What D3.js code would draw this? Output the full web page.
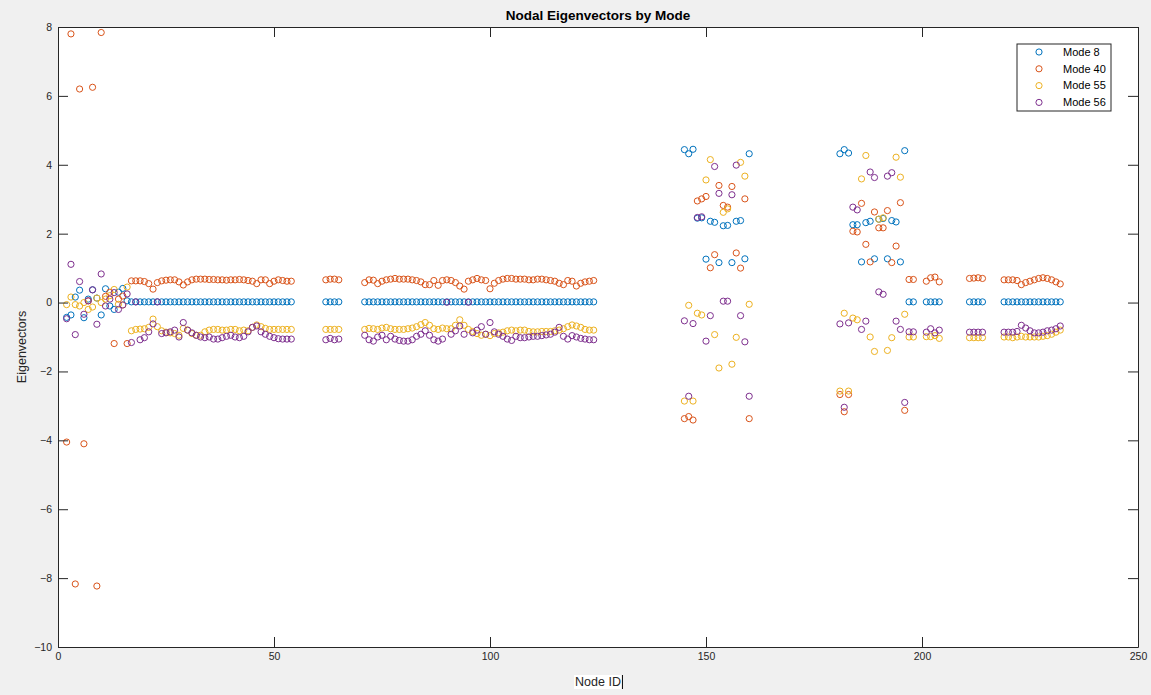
<!DOCTYPE html>
<html>
<head>
<meta charset="utf-8">
<script src="https://cdn.jsdelivr.net/npm/d3@7"></script>
<style>
  body { margin: 0; background: #f0f0f0; }
  svg { display: block; font-family: "Liberation Sans", Arial, sans-serif; }
</style>
</head>
<body>
<svg id="chart" width="1151" height="695"></svg>
<script>
// node ids, one entry per node (groups: 2-54, 62-65, 71-124, 145-160, 181-198, 201-204, 211-214, 219-232)
const nodeIds = [
  2,3,4,5,6,7,8,9,10,11,12,13,14,15,16,
  17,18,19,20,21,22,23,24,25,26,27,28,29,30,31,32,33,34,35,36,37,38,39,40,41,42,43,44,45,46,47,48,49,50,51,52,53,54,
  62,63,64,65,
  71,72,73,74,75,76,77,78,79,80,81,82,83,84,85,86,87,88,89,90,91,92,93,94,95,96,97,98,99,100,
  101,102,103,104,105,106,107,108,109,110,111,112,113,114,115,116,117,118,119,120,121,122,123,124,
  145,146,147,148,149,150,151,152,153,154,155,156,157,158,159,160,
  181,182,183,184,185,186,187,188,189,190,191,192,193,194,195,196,197,198,
  201,202,203,204,
  211,212,213,214,
  219,220,221,222,223,224,225,226,227,228,229,230,231,232
];

const mode8 = [
  -0.43,-0.36,0.16,0.36,-0.44,0.10,0.37,0.13,-0.36,0.40,-0.10,-0.20,0.30,0.41,0.05,
  0.02,0.02,0.02,0.02,0.02,0.02,0.02,0.02,0.02,0.02,0.02,0.02,0.02,0.02,0.02,0.02,0.02,0.02,0.02,0.02,0.02,0.02,0.02,0.02,0.02,0.02,0.02,0.02,0.02,0.02,0.02,0.02,0.02,0.02,0.02,0.02,0.02,0.02,
  0.02,0.02,0.02,0.02,
  0.02,0.02,0.02,0.02,0.02,0.02,0.02,0.02,0.02,0.02,0.02,0.02,0.02,0.02,0.02,0.02,0.02,0.02,0.02,0.02,0.02,0.02,0.02,0.02,0.02,0.02,0.02,0.02,0.02,0.02,
  0.02,0.02,0.02,0.02,0.02,0.02,0.02,0.02,0.02,0.02,0.02,0.02,0.02,0.02,0.02,0.02,0.02,0.02,0.02,0.02,0.02,0.02,0.02,0.02,
  4.44,4.32,4.45,2.45,2.46,1.26,2.36,2.33,1.16,2.23,2.24,1.16,2.36,2.38,1.27,4.32,
  4.32,4.44,4.34,2.26,2.26,1.18,2.32,2.36,1.27,2.42,2.44,1.27,2.38,2.34,1.18,4.41,0.02,0.02,
  0.02,0.02,0.02,0.02,
  0.02,0.02,0.02,0.02,
  0.02,0.02,0.02,0.02,0.02,0.02,0.02,0.02,0.02,0.02,0.02,0.02,0.02,0.02
];

const mode40 = [
  -4.05,7.80,-8.17,6.20,-4.10,0.05,6.25,-8.23,7.84,0.18,0.30,-1.19,0.10,0.19,-1.19,
  0.63,0.63,0.63,0.61,0.55,0.39,0.58,0.63,0.65,0.66,0.66,0.60,0.51,0.60,0.66,0.68,0.68,0.68,0.67,0.67,0.66,0.66,0.65,0.66,0.66,0.67,0.66,0.64,0.62,0.55,0.66,0.66,0.55,0.62,0.66,0.64,0.62,0.62,
  0.66,0.68,0.68,0.66,
  0.58,0.66,0.65,0.55,0.62,0.66,0.68,0.70,0.68,0.68,0.68,0.66,0.64,0.60,0.52,0.52,0.64,0.50,0.64,0.66,0.64,0.58,0.48,0.39,0.62,0.66,0.70,0.66,0.64,0.40,
  0.56,0.64,0.68,0.70,0.70,0.68,0.68,0.68,0.66,0.66,0.68,0.68,0.66,0.64,0.62,0.56,0.52,0.64,0.62,0.48,0.56,0.60,0.62,0.64,
  -3.37,-3.31,-3.41,2.95,3.01,3.08,1.01,1.39,3.40,2.82,2.77,3.37,1.44,1.00,3.01,-3.37,
  -2.67,-3.17,-2.67,2.07,2.05,2.88,1.69,1.18,2.63,2.17,2.17,2.67,1.16,1.64,2.90,-3.13,0.67,0.67,
  0.62,0.72,0.74,0.60,
  0.70,0.71,0.72,0.70,
  0.66,0.66,0.66,0.64,0.52,0.58,0.62,0.66,0.70,0.72,0.70,0.66,0.60,0.54
];

const mode55 = [
  -0.06,0.16,-0.06,-0.10,0.00,-0.20,-0.13,0.13,0.00,0.10,0.20,0.38,-0.05,-0.07,0.45,
  -0.82,-0.78,-0.77,-0.76,-0.72,-0.48,-0.70,-0.82,-0.86,-0.88,-0.90,-0.95,-0.75,-0.80,-0.90,-0.95,-0.95,-0.85,-0.80,-0.78,-0.78,-0.80,-0.80,-0.78,-0.78,-0.82,-0.80,-0.82,-0.72,-0.65,-0.70,-0.75,-0.78,-0.78,-0.78,-0.78,-0.78,-0.78,
  -0.78,-0.78,-0.78,-0.78,
  -0.78,-0.75,-0.76,-0.78,-0.74,-0.72,-0.76,-0.78,-0.78,-0.78,-0.76,-0.74,-0.70,-0.64,-0.58,-0.66,-0.76,-0.78,-0.74,-0.76,-0.76,-0.66,-0.50,-0.66,-0.78,-0.84,-0.90,-0.95,-0.92,-0.96,
  -0.90,-0.88,-0.86,-0.82,-0.80,-0.82,-0.80,-0.80,-0.84,-0.85,-0.85,-0.84,-0.84,-0.84,-0.82,-0.80,-0.76,-0.70,-0.65,-0.68,-0.72,-0.78,-0.80,-0.80,
  -2.86,-0.08,-2.86,-0.31,-0.36,3.56,4.15,-0.93,-1.90,2.62,2.72,-1.79,-1.01,4.07,3.67,-0.05,
  -2.57,-0.31,-2.57,-0.45,-0.50,3.59,4.27,-1.00,-1.42,2.42,2.46,-1.39,-1.02,4.22,3.64,-0.34,-1.00,-1.00,
  -0.99,-0.99,-0.96,-1.04,
  -1.02,-1.02,-1.02,-1.02,
  -1.00,-1.00,-1.02,-1.00,-0.98,-1.00,-1.00,-1.00,-1.00,-0.98,-0.96,-0.92,-0.86,-0.80
];

const mode56 = [
  -0.47,1.11,-0.93,0.61,-0.34,0.05,0.37,-0.63,0.83,-0.10,0.10,0.29,-0.20,-0.07,0.25,
  -1.16,0.02,-1.08,-1.02,-0.85,-0.62,0.02,-0.90,-0.88,-0.85,-0.80,-1.00,-0.58,-0.80,-0.88,-0.95,-1.00,-1.02,-1.00,-1.06,-1.06,-1.02,-0.98,-0.95,-1.00,-1.02,-0.98,-0.85,-0.72,-0.68,-0.85,-0.92,-0.98,-1.02,-1.05,-1.06,-1.06,-1.06,
  -1.08,-1.04,-1.08,-1.06,
  -0.95,-1.08,-1.12,-1.00,-0.95,-1.08,-0.98,-1.06,-1.10,-1.12,-1.12,-1.08,-0.98,-0.92,-0.82,-0.95,-1.08,-1.12,-1.06,0.01,-0.92,-0.82,-0.68,-0.92,0.01,-0.88,-0.80,-0.70,-0.92,-0.58,
  -0.85,-0.92,-0.98,-1.06,-1.10,-0.98,-1.02,-1.02,-1.00,-0.98,-0.98,-0.96,-0.94,-0.92,-0.86,-0.72,-0.98,-1.06,-0.96,-1.00,-1.04,-1.06,-1.08,-1.08,
  -0.53,-2.72,-0.61,2.47,2.49,-1.12,-0.38,3.95,3.17,0.04,0.04,3.13,3.99,-0.38,-1.14,-2.72,
  -0.62,-3.04,-0.59,2.77,2.69,-0.78,-0.54,3.79,3.63,0.31,0.24,3.67,3.77,-0.54,-0.78,-2.90,-0.85,-0.85,
  -0.86,-0.76,-0.88,-0.80,
  -0.86,-0.86,-0.86,-0.86,
  -0.86,-0.86,-0.86,-0.84,-0.66,-0.74,-0.82,-0.88,-0.88,-0.86,-0.82,-0.80,-0.76,-0.68
];

const seriesNames = ["Mode 8", "Mode 40", "Mode 55", "Mode 56"];
const seriesColors = ["#0072BD", "#D95319", "#EDB120", "#7E2F8E"];
const seriesValues = [mode8, mode40, mode55, mode56];
const xTicks = [0, 50, 100, 150, 200, 250];
const yTicks = [-10, -8, -6, -4, -2, 0, 2, 4, 6, 8];

const svg = d3.select("#chart");
const margin = { top: 27, right: 13, bottom: 48, left: 58 };
const width = 1151 - margin.left - margin.right;
const height = 695 - margin.top - margin.bottom;

const x = d3.scaleLinear().domain([0, 250]).range([0, width]);
const y = d3.scaleLinear().domain([-10, 8]).range([height, 0]);

const g = svg.append("g").attr("transform", `translate(${margin.left},${margin.top})`);

g.append("rect")
  .attr("width", width)
  .attr("height", height)
  .attr("fill", "#fff");

// markers, drawn in series order so later modes sit on top
seriesValues.forEach((vals, i) => {
  g.append("g")
    .selectAll("circle")
    .data(nodeIds.map((n, j) => ({ n: n, v: vals[j] })))
    .enter()
    .append("circle")
    .attr("cx", d => x(d.n))
    .attr("cy", d => y(d.v))
    .attr("r", 3.1)
    .attr("fill", "none")
    .attr("stroke", seriesColors[i])
    .attr("stroke-width", 1);
});

// axes with inward ticks, like matlab
const axisColor = "#262626";
const tickLen = 10;

const xAxis = g.append("g")
  .attr("transform", `translate(0,${height})`)
  .call(d3.axisBottom(x).tickValues(xTicks).tickSizeInner(-tickLen).tickSizeOuter(0).tickPadding(6));
const xTop = g.append("g")
  .call(d3.axisTop(x).tickValues(xTicks).tickSizeInner(-tickLen).tickSizeOuter(0).tickFormat(""));
const yAxis = g.append("g")
  .call(d3.axisLeft(y).tickValues(yTicks).tickSizeInner(-tickLen).tickSizeOuter(0).tickPadding(6));
const yRight = g.append("g")
  .attr("transform", `translate(${width},0)`)
  .call(d3.axisRight(y).tickValues(yTicks).tickSizeInner(-tickLen).tickSizeOuter(0).tickFormat(""));

[xAxis, xTop, yAxis, yRight].forEach(a => {
  a.select(".domain").attr("stroke", axisColor).attr("stroke-width", 1);
  a.selectAll(".tick line").attr("stroke", axisColor).attr("stroke-width", 1);
  a.selectAll(".tick text").attr("fill", "#262626").attr("font-size", 10.5);
});
yAxis.selectAll(".tick text").attr("dy", "0.32em");

// title
svg.append("text")
  .attr("x", margin.left + width / 2)
  .attr("y", 20)
  .attr("text-anchor", "middle")
  .attr("font-size", 13.5)
  .attr("font-weight", "bold")
  .attr("fill", "#000")
  .text("Nodal Eigenvectors by Mode");

// x label, in edit mode with a white box and caret
const xl = svg.append("text")
  .attr("x", margin.left + width / 2)
  .attr("y", 686)
  .attr("text-anchor", "middle")
  .attr("font-size", 12.5)
  .attr("fill", "#262626")
  .text("Node ID");
const bb = xl.node().getBBox();
svg.append("rect")
  .attr("x", bb.x - 1)
  .attr("y", bb.y)
  .attr("width", bb.width + 3)
  .attr("height", bb.height)
  .attr("fill", "#fff");
xl.raise();
svg.append("line")
  .attr("x1", bb.x + bb.width + 1.5).attr("x2", bb.x + bb.width + 1.5)
  .attr("y1", bb.y).attr("y2", bb.y + bb.height)
  .attr("stroke", "#000").attr("stroke-width", 1);

// y label
svg.append("text")
  .attr("transform", `translate(26,${margin.top + height / 2 + 10}) rotate(-90)`)
  .attr("text-anchor", "middle")
  .attr("font-size", 12.5)
  .attr("fill", "#262626")
  .text("Eigenvectors");

// legend
const lg = svg.append("g").attr("transform", "translate(1017,44)");
lg.append("rect")
  .attr("width", 94)
  .attr("height", 67)
  .attr("fill", "#fff")
  .attr("stroke", "#262626")
  .attr("stroke-width", 1);
seriesNames.forEach((name, i) => {
  const row = lg.append("g").attr("transform", `translate(0,${8 + i * 16.8})`);
  row.append("circle")
    .attr("cx", 22).attr("cy", 0).attr("r", 3.1)
    .attr("fill", "none").attr("stroke", seriesColors[i]).attr("stroke-width", 1);
  row.append("text")
    .attr("x", 46).attr("y", 0).attr("dy", "0.35em")
    .attr("font-size", 11).attr("fill", "#000")
    .text(name);
});
</script>
</body>
</html>
